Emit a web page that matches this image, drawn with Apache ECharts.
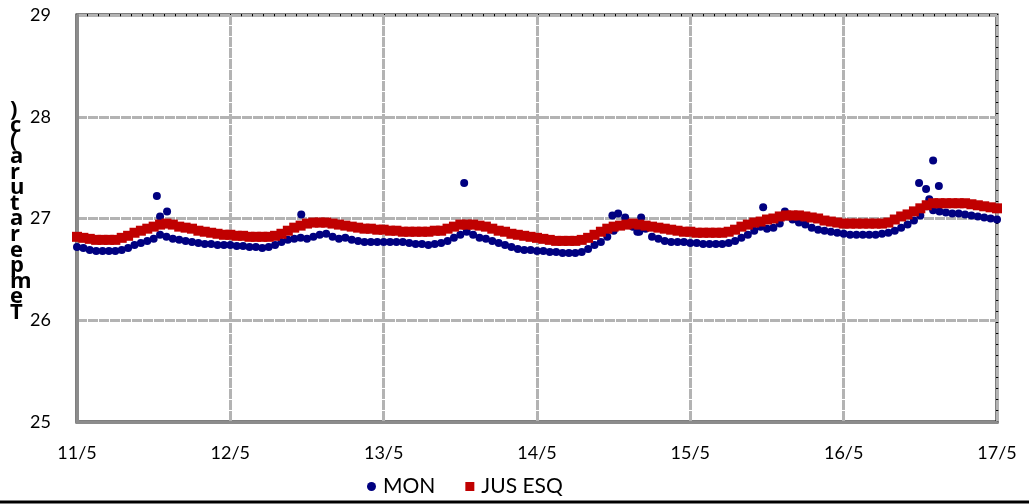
<!DOCTYPE html>
<html>
<head>
<meta charset="utf-8">
<script src="https://cdn.jsdelivr.net/npm/echarts@6/dist/echarts.min.js"></script>
<style>
html,body{margin:0;padding:0;background:#fff;}
#chart{width:1029px;height:504px;}
</style>
</head>
<body>
<div id="chart"></div>
<script>
// Tick labels (one per day, hour 0, 24, 48, ...)
const dayLabels = ['11/5','12/5','13/5','14/5','15/5','16/5','17/5'];

// JUS ESQ hourly values (hour 0 = 11/5 00:00 ... hour 144 = 17/5 00:00)
const jusEsq = [
  26.82,26.81,26.80,26.79,26.79,26.79,26.79,26.81,26.83,26.86,26.88,26.90,26.92,26.94,26.95,26.94,26.92,26.91,26.90,26.88,26.87,26.86,26.85,26.84,
  26.84,26.83,26.83,26.82,26.82,26.82,26.82,26.83,26.85,26.88,26.91,26.93,26.95,26.96,26.96,26.96,26.95,26.94,26.93,26.92,26.91,26.90,26.90,26.89,
  26.89,26.88,26.88,26.87,26.87,26.87,26.87,26.87,26.88,26.88,26.90,26.92,26.94,26.94,26.94,26.93,26.92,26.90,26.88,26.87,26.85,26.84,26.83,26.82,
  26.81,26.80,26.79,26.78,26.78,26.78,26.78,26.79,26.81,26.84,26.87,26.90,26.92,26.93,26.94,26.95,26.94,26.93,26.92,26.91,26.90,26.89,26.88,26.87,
  26.87,26.86,26.86,26.86,26.86,26.86,26.87,26.89,26.92,26.94,26.96,26.97,26.99,27.00,27.02,27.03,27.03,27.03,27.02,27.01,27.00,26.98,26.97,26.96,
  26.95,26.95,26.95,26.95,26.95,26.95,26.95,26.96,26.99,27.02,27.04,27.07,27.10,27.13,27.15,27.15,27.15,27.15,27.15,27.15,27.14,27.13,27.12,27.11,27.10
];

// MON hourly values
const mon = [
  26.72,26.71,26.69,26.68,26.68,26.68,26.68,26.69,26.71,26.74,26.76,26.78,26.80,26.84,26.82,26.80,26.79,26.78,26.77,26.76,26.75,26.75,26.74,26.74,
  26.74,26.73,26.73,26.72,26.72,26.71,26.72,26.74,26.77,26.79,26.80,26.81,26.80,26.82,26.84,26.85,26.82,26.80,26.81,26.79,26.78,26.77,26.77,26.77,
  26.77,26.77,26.77,26.77,26.76,26.75,26.75,26.74,26.75,26.76,26.78,26.81,26.84,26.87,26.84,26.81,26.80,26.78,26.76,26.74,26.72,26.70,26.69,26.69,
  26.68,26.68,26.67,26.67,26.66,26.66,26.66,26.67,26.70,26.74,26.77,26.82,26.88,26.93,26.94,26.92,26.87,26.90,26.82,26.80,26.78,26.77,26.77,26.77,
  26.76,26.76,26.75,26.75,26.75,26.75,26.76,26.78,26.81,26.84,26.88,26.92,26.90,26.91,26.95,27.02,26.99,26.96,26.94,26.91,26.89,26.88,26.87,26.86,
  26.85,26.84,26.84,26.84,26.84,26.84,26.85,26.86,26.88,26.91,26.94,26.98,27.03,27.12,27.08,27.07,27.06,27.05,27.05,27.04,27.03,27.02,27.01,27.00,26.99
];

// MON isolated readings (spikes) between the hourly marks
const monExtraHours  = [12.5, 13.0, 14.1, 35.1, 60.6, 83.8, 84.7, 85.8, 87.7, 88.3, 107.4, 110.8, 131.8, 132.9, 133.4, 134.0, 134.9];
const monExtraValues = [27.22,27.02,27.07,27.04,27.35,27.03,27.05,27.01,26.87,27.01,27.11, 27.07, 27.35, 27.29, 27.19, 27.57, 27.32];

const yTitle = 'Temperatura(c)';

const jusData = jusEsq.map((v, i) => [i, v]);
const monData = mon.map((v, i) => [i, v]).concat(monExtraHours.map((h, i) => [h, monExtraValues[i]]));

const FONT = 'Lato, "Open Sans", sans-serif';
const gridLine = { show: true, lineStyle: { color: '#b3b3b3', width: 3, type: [10, 1] } };

const chart = echarts.init(document.getElementById('chart'), null, { renderer: 'canvas' });
chart.setOption({
  backgroundColor: '#ffffff',
  animation: false,
  grid: {
    left: 77, right: 32, top: 15, bottom: 82,
    show: true, borderColor: '#000000', borderWidth: 3, backgroundColor: 'transparent'
  },
  legend: {
    bottom: 2,
    left: 362,
    itemGap: 30,
    itemWidth: 9,
    itemHeight: 9,
    textStyle: { fontFamily: FONT, fontSize: 21, color: '#000', padding: [0, 0, 0, 2] },
    data: [
      { name: 'MON', icon: 'circle', itemStyle: { color: '#000080' } },
      { name: 'JUS ESQ', icon: 'rect', itemStyle: { color: '#c00000' } }
    ]
  },
  xAxis: {
    type: 'value',
    min: 0, max: 144, interval: 24,
    axisLine: { show: true, onZero: false, lineStyle: { color: '#8c8c8c', width: 3 } },
    axisTick: { show: false },
    splitLine: gridLine,
    axisLabel: {
      margin: 22,
      fontFamily: FONT, fontSize: 18, color: '#000',
      formatter: v => dayLabels[Math.round(v / 24)]
    }
  },
  yAxis: {
    type: 'value',
    min: 25, max: 29, interval: 1,
    axisLine: { show: true, onZero: false, lineStyle: { color: '#8c8c8c', width: 3 } },
    axisTick: { show: false },
    splitLine: gridLine,
    axisLabel: { margin: 26, fontFamily: FONT, fontSize: 18, color: '#000' }
  },
  graphic: [
    {
      type: 'text',
      left: 10, top: 99,
      style: {
        text: yTitle.split('').reverse().join('\n'),
        font: 'bold 22px "Open Sans", sans-serif',
        lineHeight: 15.6,
        fill: '#000',
        align: 'center'
      }
    },
    {
      type: 'line',
      shape: { x1: 0, y1: 502, x2: 1029, y2: 502 },
      style: { stroke: '#000', lineWidth: 3 }
    }
  ],
  series: [
    {
      name: 'JUS ESQ',
      type: 'scatter',
      symbol: 'rect',
      symbolSize: 10,
      itemStyle: { color: '#c00000', opacity: 1 },
      data: jusData,
      z: 3
    },
    {
      name: 'MON',
      type: 'scatter',
      symbol: 'circle',
      symbolSize: 8,
      itemStyle: { color: '#000080', opacity: 1 },
      data: monData,
      z: 2
    }
  ]
});
</script>
</body>
</html>
